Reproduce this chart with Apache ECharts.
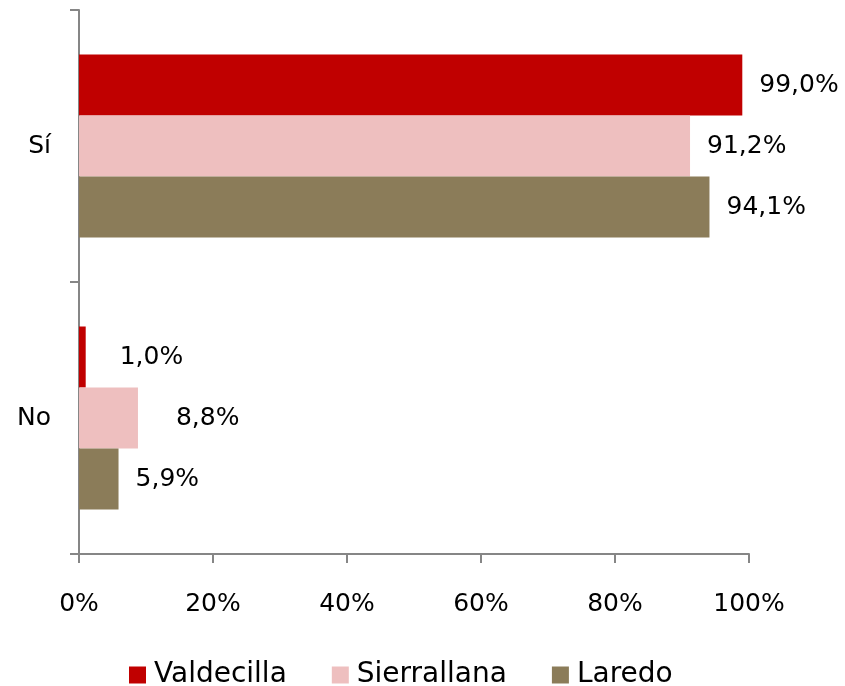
<!DOCTYPE html>
<html>
<head>
<meta charset="utf-8">
<script src="https://cdn.jsdelivr.net/npm/echarts@6/dist/echarts.min.js"></script>
<style>
  html, body { margin: 0; padding: 0; background: #fff; }
  #main { width: 845px; height: 686px; }
</style>
</head>
<body>
<div id="main"></div>
<script>
// categories (top to bottom) and values in %
var categories = ['Sí', 'No'];
var seriesNames = ['Valdecilla', 'Sierrallana', 'Laredo'];
var valdecilla = [99.0, 1.0];
var sierrallana = [91.2, 8.8];
var laredo = [94.1, 5.9];
var xTicks = [0, 20, 40, 60, 80, 100];

var colors = ['#C00000', '#EEBFBF', '#8B7C59'];
var font = 'DejaVu Sans';

var myChart = echarts.init(document.getElementById('main'));

function fmt(v) {
    return v.toFixed(1).replace('.', ',') + '%';
}

// extra gap some labels have in the original
var labelGap = { 'Valdecilla-1': 34, 'Sierrallana-1': 38 };

function makeSeries(name, values, color) {
    return {
        name: name,
        type: 'bar',
        barWidth: 61,
        barGap: '0%',
        itemStyle: { color: color },
        label: {
            show: true,
            position: 'right',
            distance: 17,
            color: '#000',
            fontFamily: font,
            fontSize: 25,
            formatter: function (p) { return fmt(p.value); }
        },
        data: values.map(function (v, i) {
            var d = { value: v };
            var g = labelGap[name + '-' + i];
            if (g) d.label = { distance: g };
            return d;
        })
    };
}

var option = {
    animation: false,
    grid: { left: 79, right: 96, top: 10, bottom: 132 },
    legend: {
        data: seriesNames,
        left: 124,
        top: 656,
        itemWidth: 17,
        itemHeight: 17,
        itemGap: 45,
        icon: 'rect',
        textStyle: { fontFamily: font, fontSize: 28, color: '#000', padding: [0, 0, 0, 3] }
    },
    xAxis: {
        type: 'value',
        min: xTicks[0],
        max: xTicks[xTicks.length - 1],
        interval: xTicks[1] - xTicks[0],
        splitLine: { show: false },
        axisLine: { show: true, lineStyle: { color: '#868686', width: 2 } },
        axisTick: { show: true, length: 9, lineStyle: { color: '#868686', width: 2 } },
        axisLabel: {
            margin: 38,
            color: '#000',
            fontFamily: font,
            fontSize: 25,
            formatter: '{value}%'
        }
    },
    yAxis: {
        type: 'category',
        inverse: true,
        data: categories,
        axisLine: { show: true, lineStyle: { color: '#868686', width: 2 } },
        axisTick: { show: true, length: 9, lineStyle: { color: '#868686', width: 2 } },
        axisLabel: {
            margin: 28,
            color: '#000',
            fontFamily: font,
            fontSize: 25
        }
    },
    series: [
        makeSeries(seriesNames[0], valdecilla, colors[0]),
        makeSeries(seriesNames[1], sierrallana, colors[1]),
        makeSeries(seriesNames[2], laredo, colors[2])
    ]
};

myChart.setOption(option);
</script>
</body>
</html>
